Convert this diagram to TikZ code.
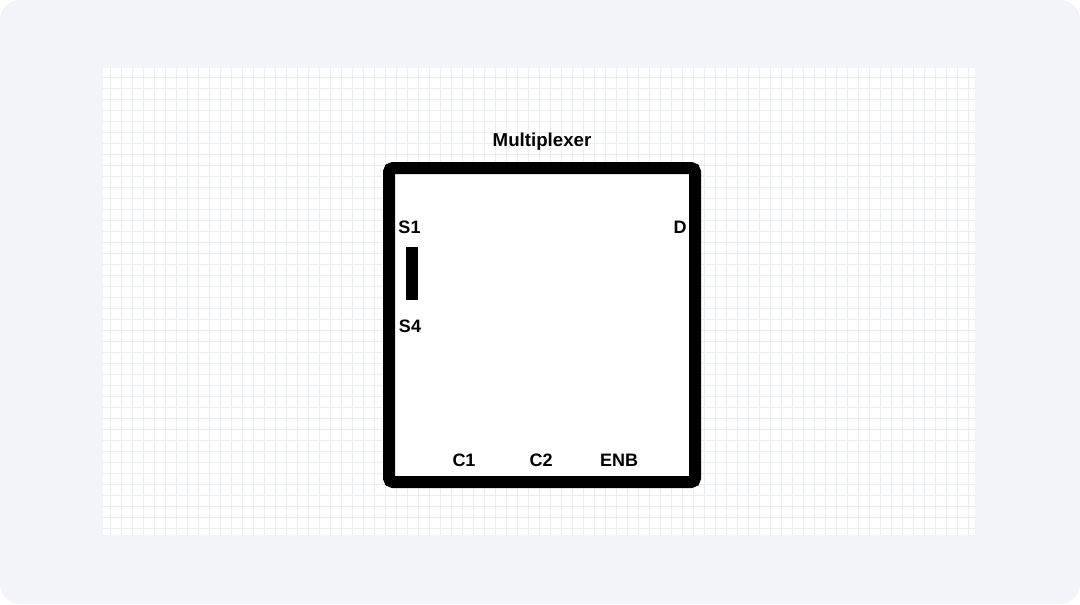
\documentclass[tikz,border=0pt]{standalone}
\usepackage{fontspec}
\setmainfont{Liberation Sans}
\usepackage{tikz}

\definecolor{panelbg}{RGB}{243,244,249}
\definecolor{gridln}{RGB}{235,238,241}

\tikzset{
  pinlabel/.style={inner sep=0.75pt, font=\bfseries\fontsize{13.5}{16}\selectfont},
}

\begin{document}
\begin{tikzpicture}[x=0.75pt,y=0.75pt,yscale=-1,xscale=1]
    \useasboundingbox (0,0) rectangle (1080,604);
    %Shape: Panel 
    \fill [white] (0,0) rectangle (1080,604);
    \fill [panelbg, rounded corners=15pt] (0,0) rectangle (1080,604);
    %Shape: Grid 
    \fill [white] (103,68) rectangle (975,535);
    \begin{scope}
      \clip (103,68) rectangle (975,535);
      \draw [gridln, line width=0.6pt, step=8.25pt] (103,68) grid (975,535);
    \end{scope}
    %Shape: Rectangle 
    \draw [line width=9pt, rounded corners=3pt, fill=white] (389,168) rectangle (695,482);
    %Shape: Bar 
    \fill [black] (406,247) rectangle (418,300);

    % Text Node
    \node [pinlabel, font=\bfseries\fontsize{14}{17}\selectfont] (title) at (542,142) {Multiplexer};
    % Text Node
    \node [pinlabel] (sone) at (409.5,227) {S1};
    % Text Node
    \node [pinlabel] (sfour) at (410,326) {S4};
    % Text Node
    \node [pinlabel] (dout) at (680,227) {D};
    % Text Node
    \node [pinlabel] (cone) at (464,460) {C1};
    % Text Node
    \node [pinlabel] (ctwo) at (541,460) {C2};
    % Text Node
    \node [pinlabel] (enb) at (619,460) {ENB};
\end{tikzpicture}
\end{document}
